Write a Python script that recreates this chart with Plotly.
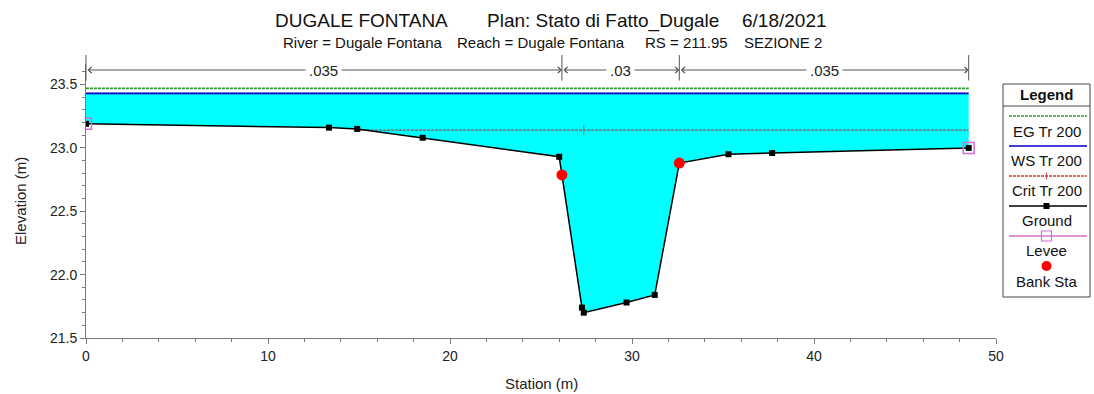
import plotly.graph_objects as go

# ---------------- data ----------------
ground_station = [0, 13.35, 14.9, 18.5, 26.0, 27.25, 27.35, 29.7, 31.25, 32.6, 35.3, 37.7, 48.5]
ground_elev = [23.19, 23.16, 23.15, 23.08, 22.93, 21.74, 21.70, 21.78, 21.84, 22.88, 22.95, 22.96, 23.00]
ws_elev = 23.43
eg_elev = 23.47
crit_elev = 23.14
crit_station = [15.0, 27.35, 48.5]
levee_station = [0, 48.5]
levee_elev = [23.19, 23.00]
bank_station = [26.15, 32.6]
bank_elev = [22.787, 22.88]
n_break_station = [0, 26.15, 32.6, 48.5]
n_values = [".035", ".03", ".035"]
x_ticks = [0, 10, 20, 30, 40, 50]
y_ticks = [21.5, 22.0, 22.5, 23.0, 23.5]
legend_names = ["EG Tr 200", "WS Tr 200", "Crit Tr 200", "Ground", "Levee", "Bank Sta"]
title_parts = ["DUGALE FONTANA", "Plan: Stato di Fatto_Dugale", "6/18/2021"]
subtitle_parts = ["River = Dugale Fontana", "Reach = Dugale Fontana", "RS = 211.95", "SEZIONE 2"]

# ---------------- styling / layout helpers ----------------
W, H = 1094, 394
ML, MR, MT, MB = 86, 98, 64, 56
PW, PH = W - ML - MR, H - MT - MB
FONT = "Liberation Sans, Arial, sans-serif"
CYAN = "#00FFFF"
EG_COLOR = "#2f9a2f"
WS_COLOR = "#0000c8"
CRIT_COLOR = "#d03a3a"
LEVEE_COLOR = "#d070d0"
BANK_COLOR = "#ff0000"
AXIS_COLOR = "#7a7a7a"


def px_x(px):
    return (px - ML) / PW


def px_y(py):
    return (H - MB - py) / PH


x_left, x_right = ground_station[0], ground_station[-1]

fig = go.Figure()

# water fill between WS and ground
fig.add_trace(go.Scatter(
    x=ground_station + [x_right, x_left],
    y=ground_elev + [ws_elev, ws_elev],
    mode="lines", fill="toself", fillcolor=CYAN,
    line=dict(width=0, color=CYAN), hoverinfo="skip"))

# EG
fig.add_trace(go.Scatter(x=[x_left, x_right], y=[eg_elev, eg_elev], mode="lines",
                         line=dict(color=EG_COLOR, width=1.6, dash="3px,1px")))
# WS
fig.add_trace(go.Scatter(x=[x_left, x_right], y=[ws_elev, ws_elev], mode="lines",
                         line=dict(color=WS_COLOR, width=1.6)))
# Crit
fig.add_trace(go.Scatter(x=crit_station, y=[crit_elev] * len(crit_station), mode="lines+markers",
                         line=dict(color=CRIT_COLOR, width=1.3, dash="3px,1px"),
                         marker=dict(symbol="line-ns", size=[0, 7, 0],
                                     line=dict(color=CRIT_COLOR, width=1))))
# Ground
fig.add_trace(go.Scatter(x=ground_station, y=ground_elev, mode="lines+markers",
                         line=dict(color="black", width=1.5),
                         marker=dict(symbol="square", size=6, color="black")))
# Levee
fig.add_trace(go.Scatter(x=levee_station, y=levee_elev, mode="markers",
                         marker=dict(symbol="square-open", size=11,
                                     line=dict(color=LEVEE_COLOR, width=1.5), color=LEVEE_COLOR)))
# Bank stations
fig.add_trace(go.Scatter(x=bank_station, y=bank_elev, mode="markers",
                         marker=dict(symbol="circle", size=11, color=BANK_COLOR)))

annotations = []
shapes = []

# titles
for txt, left in zip(title_parts, [273, 485, 740]):
    annotations.append(dict(text=txt, x=px_x(left), y=px_y(21), xref="paper", yref="paper",
                            xanchor="left", yanchor="middle", showarrow=False,
                            font=dict(family=FONT, size=19, color="#111")))
for txt, left in zip(subtitle_parts, [281, 455, 643, 742]):
    annotations.append(dict(text=txt, x=px_x(left), y=px_y(43), xref="paper", yref="paper",
                            xanchor="left", yanchor="middle", showarrow=False,
                            font=dict(family=FONT, size=15, color="#111")))

# axis titles
annotations.append(dict(text="Station (m)", x=px_x(541), y=px_y(383), xref="paper", yref="paper",
                        xanchor="center", yanchor="middle", showarrow=False,
                        font=dict(family=FONT, size=15, color="#222")))
annotations.append(dict(text="Elevation (m)", x=px_x(20), y=0.5, xref="paper", yref="paper",
                        xanchor="center", yanchor="middle", showarrow=False, textangle=-90,
                        font=dict(family=FONT, size=15, color="#222")))

# Manning n arrows
arrow_y = px_y(70)
for i, nv in enumerate(n_values):
    a, b = n_break_station[i], n_break_station[i + 1]
    annotations.append(dict(text="", x=b, y=arrow_y, xref="x", yref="paper",
                            ax=a, ay=0, axref="x", ayref="pixel",
                            showarrow=True, arrowside="end+start",
                            arrowhead=4, startarrowhead=4, arrowsize=1.2, startarrowsize=1.2,
                            arrowwidth=1, arrowcolor="#555", standoff=0, startstandoff=0))
    annotations.append(dict(text=nv, x=(a + b) / 2, y=arrow_y, xref="x", yref="paper",
                            xanchor="center", yanchor="middle",
                            showarrow=False, bgcolor="white", borderpad=3,
                            font=dict(family=FONT, size=15, color="#222")))
for s in n_break_station:
    annotations.append(dict(text="", x=s, y=px_y(55), xref="x", yref="paper",
                            ax=0, ay=27, showarrow=True, arrowhead=0,
                            arrowwidth=1, arrowcolor="#555"))

# custom legend
LX0, LX1 = 1003, 1090
LY0, LY1 = 84, 297
shapes.append(dict(type="rect", xref="paper", yref="paper",
                   x0=px_x(LX0), x1=px_x(LX1), y0=px_y(LY1), y1=px_y(LY0),
                   line=dict(color="#444", width=1), fillcolor="rgba(0,0,0,0)", layer="above"))
shapes.append(dict(type="line", xref="paper", yref="paper",
                   x0=px_x(LX0), x1=px_x(LX1), y0=px_y(106), y1=px_y(106),
                   line=dict(color="#444", width=1)))
lcx = (LX0 + LX1) / 2
annotations.append(dict(text="<b>Legend</b>", x=px_x(lcx), y=px_y(94),
                        xref="paper", yref="paper", showarrow=False,
                        xanchor="center", yanchor="middle",
                        font=dict(family=FONT, size=15, color="#111")))
line_ys = [116, 146, 176, 206, 236, 266]
text_ys = [131, 160, 190, 220, 250, 281]
styles = [
    dict(color=EG_COLOR, width=1.6, dash="3px,1px"),
    dict(color=WS_COLOR, width=1.6),
    dict(color=CRIT_COLOR, width=1.3, dash="3px,1px"),
    dict(color="black", width=1.5),
    dict(color=LEVEE_COLOR, width=1.5),
    None,
]
for name, ly, ty, st in zip(legend_names, line_ys, text_ys, styles):
    if st is not None:
        shapes.append(dict(type="line", xref="paper", yref="paper",
                           x0=px_x(1009), x1=px_x(1087), y0=px_y(ly), y1=px_y(ly), line=st))
    annotations.append(dict(text=name, x=px_x(lcx), y=px_y(ty), xref="paper", yref="paper",
                            xanchor="center", yanchor="middle",
                            showarrow=False, font=dict(family=FONT, size=15, color="#111")))
# legend markers
shapes.append(dict(type="line", xref="paper", yref="paper",
                   x0=px_x(lcx), x1=px_x(lcx), y0=px_y(line_ys[2] - 3.5), y1=px_y(line_ys[2] + 3.5),
                   line=dict(color=CRIT_COLOR, width=1)))
shapes.append(dict(type="rect", xref="paper", yref="paper",
                   x0=px_x(lcx - 3), x1=px_x(lcx + 3), y0=px_y(line_ys[3] + 3), y1=px_y(line_ys[3] - 3),
                   line=dict(color="black", width=0), fillcolor="black"))
shapes.append(dict(type="rect", xref="paper", yref="paper",
                   x0=px_x(lcx - 5), x1=px_x(lcx + 5), y0=px_y(line_ys[4] + 5), y1=px_y(line_ys[4] - 5),
                   line=dict(color=LEVEE_COLOR, width=1.2)))
shapes.append(dict(type="circle", xref="paper", yref="paper",
                   x0=px_x(lcx - 5), x1=px_x(lcx + 5), y0=px_y(line_ys[5] + 5), y1=px_y(line_ys[5] - 5),
                   line=dict(color=BANK_COLOR, width=0), fillcolor=BANK_COLOR))

y_top = 23.662

fig.update_layout(
    width=W, height=H,
    margin=dict(l=ML, r=MR, t=MT, b=MB),
    paper_bgcolor="white", plot_bgcolor="white",
    showlegend=False,
    font=dict(family=FONT, size=14, color="#222"),
    annotations=annotations, shapes=shapes,
    xaxis=dict(range=[0, 50], tickvals=x_ticks, ticktext=[str(v) for v in x_ticks],
               ticks="outside", ticklen=5, tickcolor=AXIS_COLOR, tickwidth=1,
               showline=True, linecolor=AXIS_COLOR, linewidth=1,
               showgrid=False, zeroline=False,
               tickfont=dict(family=FONT, size=14, color="#222"),
               minor=dict(tick0=0, dtick=2, ticks="outside", ticklen=3, tickcolor=AXIS_COLOR)),
    yaxis=dict(range=[21.5, y_top], tickvals=y_ticks, ticktext=["%.1f" % v for v in y_ticks],
               ticks="outside", ticklen=5, tickcolor=AXIS_COLOR, tickwidth=1,
               showline=True, linecolor=AXIS_COLOR, linewidth=1,
               showgrid=False, zeroline=False,
               tickfont=dict(family=FONT, size=14, color="#222"),
               minor=dict(tick0=21.5, dtick=0.1, ticks="outside", ticklen=3, tickcolor=AXIS_COLOR)),
)

fig.write_html("out.html", config={"displayModeBar": False},
               post_script="document.body.style.margin='0px';document.body.style.overflow='hidden';")
